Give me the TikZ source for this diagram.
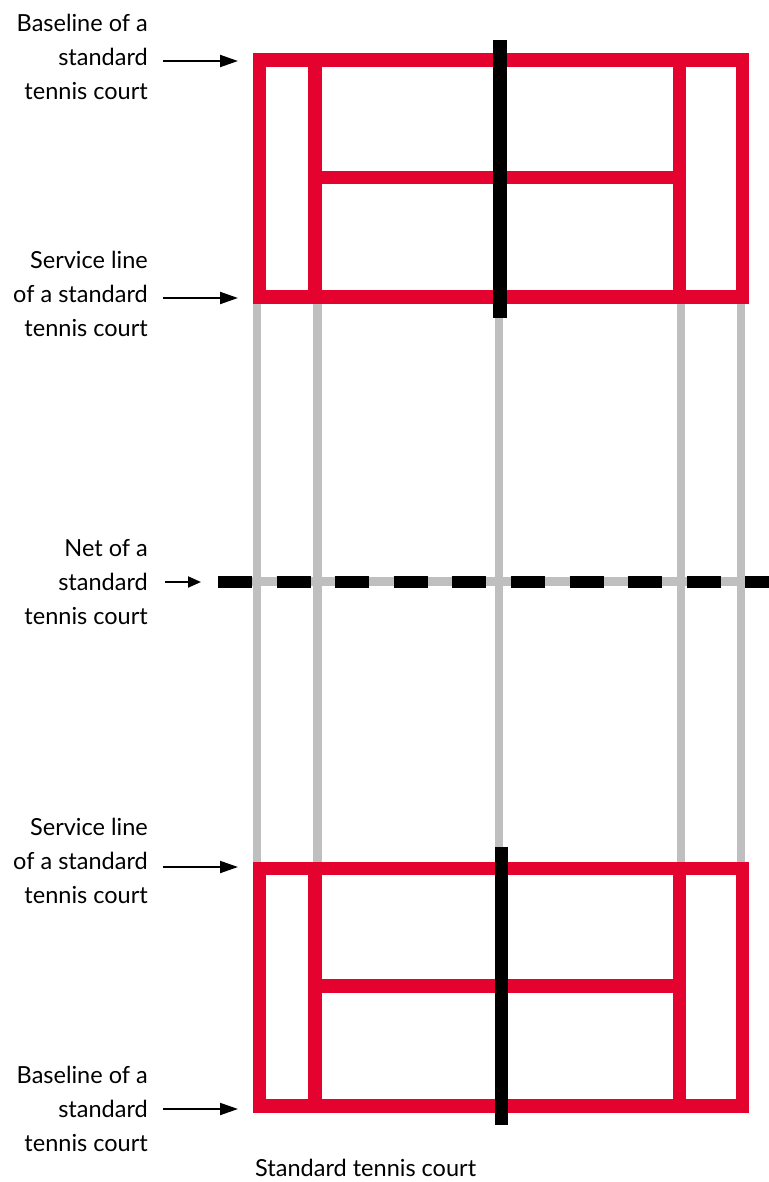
\documentclass[tikz,border=0pt]{standalone}
\usepackage{fontspec}
\setmainfont{Lato}
\usetikzlibrary{arrows.meta}
\definecolor{courtred}{HTML}{E4032E}
\definecolor{courtgray}{HTML}{BEBFBE}
\begin{document}
\begin{tikzpicture}[x=1bp,y=-1bp,
  lbl/.style={align=right,inner sep=0pt,anchor=east,font=\fontsize{23.6}{34.5}\selectfont},
  redline/.style={draw=courtred,line width=13.3bp},
  grayline/.style={draw=courtgray,line width=8.5bp},
  netline/.style={draw=black,line width=12bp,dash pattern=on 34bp off 24.6bp},
  blackline/.style={draw=black,line width=13.3bp},
  pointer/.style={draw=black,line width=2bp,-{Triangle[length=18bp,width=12bp]}},
  smallpointer/.style={draw=black,line width=2bp,-{Triangle[length=13bp,width=11bp]}}
]
\useasboundingbox (0,0) rectangle (769,1182);
% gray lines
\foreach \x in {257,317.5,499,681,741}{
  \draw[grayline] (\x,303) -- (\x,862);
}
\draw[grayline] (218,581.5) -- (769,581.5);
% top court
\draw[redline] (259.5,60) rectangle (742.5,297);
\draw[redline] (315,60) -- (315,297);
\draw[redline] (679.5,60) -- (679.5,297);
\draw[redline] (315,177.5) -- (679.5,177.5);
\draw[blackline] (500,40) -- (500,318);
% bottom court
\draw[redline] (259.5,868.5) rectangle (742.5,1106);
\draw[redline] (315,868.5) -- (315,1106);
\draw[redline] (679.5,868.5) -- (679.5,1106);
\draw[redline] (315,986) -- (679.5,986);
\draw[blackline] (501.7,846.7) -- (501.7,1125);
% net
\draw[netline] (218,581.5) -- (769,581.5);
% labels
\node[lbl] (l1) at (148,57) {Baseline of a\\standard\\tennis court};
\node[lbl] (l2) at (148,294) {Service line\\of a standard\\tennis court};
\node[lbl] (l3) at (148,582) {Net of a\\standard\\tennis court};
\node[lbl] (l4) at (148,861) {Service line\\of a standard\\tennis court};
\node[lbl] (l5) at (148,1109) {Baseline of a\\standard\\tennis court};
\node[inner sep=0pt,anchor=west,font=\fontsize{23.6}{27}\selectfont] (cap) at (255,1168) {Standard tennis court};
% arrow targets
\coordinate (t1) at (238,61);
\coordinate (t2) at (238,298);
\coordinate (t3) at (201,582);
\coordinate (t4) at (238,867);
\coordinate (t5) at (238,1109);
\draw[pointer] (l1.east |- t1) ++(15,0) -- (t1);
\draw[pointer] (l2.east |- t2) ++(15,0) -- (t2);
\draw[smallpointer] (l3.east |- t3) ++(17,0) -- (t3);
\draw[pointer] (l4.east |- t4) ++(15,0) -- (t4);
\draw[pointer] (l5.east |- t5) ++(15,0) -- (t5);
\end{tikzpicture}
\end{document}
